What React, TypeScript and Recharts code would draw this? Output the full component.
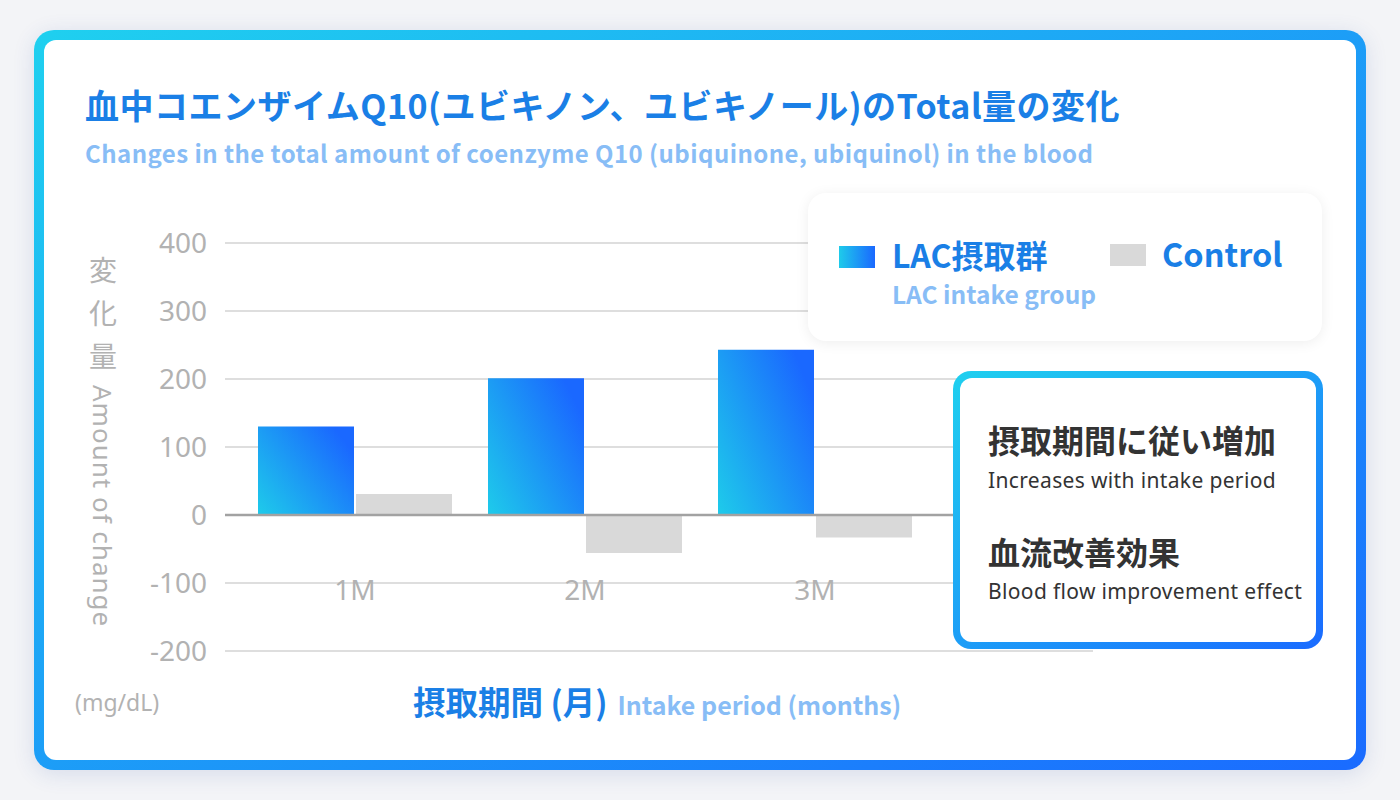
import React from 'react';
import { BarChart, Bar, XAxis, YAxis, CartesianGrid, ReferenceLine } from 'recharts';

const months = ['1M', '2M', '3M'];
const lacValues = [130, 201, 243];
const controlValues = [31, -56, -33];
const yTicks = [-200, -100, 0, 100, 200, 300, 400];

const chartData = months.map((m, i) => ({ month: m, lac: lacValues[i], control: controlValues[i] }));

const CJK = '"Noto Sans CJK JP", "Noto Sans", sans-serif';
const LATIN = '"Noto Sans", "Open Sans", sans-serif';
const BLUE = '#1a7fe6';
const LIGHT_BLUE = '#88bdf6';
const GRAY_TEXT = '#b2b2b2';
const BORDER_GRAD = 'linear-gradient(to bottom right, #1fd0ef, #1a6bff)';

const MonthTick = (props: any) => {
  const { x, y, payload } = props;
  return (
    <text x={x} y={y - 51} textAnchor="middle" fill={GRAY_TEXT} fontSize={28} fontFamily={LATIN}>
      {payload.value}
    </text>
  );
};

const App: React.FC = () => {
  return (
    <div style={{ position: 'fixed', left: 0, top: 0, width: 1400, height: 800, background: '#f3f4f7', overflow: 'hidden' }}>
      {/* card with gradient border */}
      <div
        style={{
          position: 'absolute', left: 34, top: 30, width: 1332, height: 740, borderRadius: 20,
          background: BORDER_GRAD, padding: 10, boxSizing: 'border-box',
          boxShadow: '0 4px 22px rgba(40, 80, 160, 0.14)'
        }}
      >
        <div style={{ width: '100%', height: '100%', background: '#fff', borderRadius: 12 }} />
      </div>

      {/* titles */}
      <div style={{ position: 'absolute', left: 85, top: 87, fontFamily: CJK, fontWeight: 700, fontSize: 34, letterSpacing: 0.5, lineHeight: '36px', color: BLUE, whiteSpace: 'nowrap' }}>
        血中コエンザイムQ10(ユビキノン、ユビキノール)のTotal量の変化
      </div>
      <div style={{ position: 'absolute', left: 85, top: 138, fontFamily: CJK, fontWeight: 700, fontSize: 24, letterSpacing: 0.45, lineHeight: '30px', color: LIGHT_BLUE, whiteSpace: 'nowrap' }}>
        Changes in the total amount of coenzyme Q10 (ubiquinone, ubiquinol) in the blood
      </div>

      {/* chart */}
      <div style={{ position: 'absolute', left: 0, top: 0 }}>
        <BarChart
          width={1400}
          height={800}
          data={chartData}
          margin={{ top: 243, right: 307, left: 145, bottom: 119 }}
          barCategoryGap={18}
          barGap={2}
        >
          <defs>
            <linearGradient id="lacGrad" x1="0" y1="1" x2="1" y2="0.3">
              <stop offset="0%" stopColor="#1ecbea" />
              <stop offset="100%" stopColor="#1a68ff" />
            </linearGradient>
          </defs>
          <CartesianGrid vertical={false} stroke="#dedede" strokeWidth={2} />
          <XAxis
            dataKey="month"
            axisLine={false}
            tickLine={false}
            tickSize={0}
            tickMargin={0}
            height={30}
            padding={{ left: 15, right: 163 }}
            tick={<MonthTick />}
          />
          <YAxis
            domain={[-200, 400]}
            ticks={yTicks}
            interval={0}
            width={80}
            axisLine={false}
            tickLine={false}
            tickSize={0}
            tickMargin={18}
            tick={{ fill: GRAY_TEXT, fontSize: 28, fontFamily: LATIN }}
          />
          <Bar dataKey="lac" fill="url(#lacGrad)" isAnimationActive={false} />
          <Bar dataKey="control" fill="#d9d9d9" isAnimationActive={false} />
          <ReferenceLine y={0} stroke="#a2a2a2" strokeWidth={2.5} />
        </BarChart>
      </div>

      {/* y axis title */}
      <div style={{ position: 'absolute', left: 83, top: 256, writingMode: 'vertical-rl', lineHeight: '40px', color: GRAY_TEXT, whiteSpace: 'nowrap' }}>
        <span style={{ fontFamily: CJK, fontSize: 28, letterSpacing: 15 }}>変化量</span>
        <span style={{ fontFamily: LATIN, fontSize: 26, letterSpacing: 1 }}>Amount of change</span>
      </div>
      <div style={{ position: 'absolute', left: 75, top: 688, fontFamily: LATIN, fontSize: 23, lineHeight: '28px', color: GRAY_TEXT }}>
        (mg/dL)
      </div>

      {/* x axis title */}
      <div style={{ position: 'absolute', left: 413, top: 677, display: 'flex', alignItems: 'baseline', gap: 10, whiteSpace: 'nowrap' }}>
        <span style={{ fontFamily: CJK, fontWeight: 700, fontSize: 32.5, color: BLUE }}>摂取期間 (月)</span>
        <span style={{ fontFamily: CJK, fontWeight: 700, fontSize: 25, color: LIGHT_BLUE }}>Intake period (months)</span>
      </div>

      {/* legend */}
      <div
        style={{
          position: 'absolute', left: 808, top: 193, width: 514, height: 148, background: '#fff', borderRadius: 18,
          boxShadow: '0 2px 14px rgba(0, 0, 0, 0.07)'
        }}
      >
        <div style={{ position: 'absolute', left: 31, top: 53, width: 36, height: 22, background: 'linear-gradient(to right, #1ecbea, #1a68ff)' }} />
        <div style={{ position: 'absolute', left: 84, top: 42, fontFamily: CJK, fontWeight: 700, fontSize: 32, lineHeight: '38px', color: BLUE, whiteSpace: 'nowrap' }}>
          LAC摂取群
        </div>
        <div style={{ position: 'absolute', left: 84, top: 86, fontFamily: CJK, fontWeight: 700, fontSize: 24.5, lineHeight: '30px', color: LIGHT_BLUE, whiteSpace: 'nowrap' }}>
          LAC intake group
        </div>
        <div style={{ position: 'absolute', left: 302, top: 51, width: 36, height: 22, background: '#d9d9d9' }} />
        <div style={{ position: 'absolute', left: 354, top: 41, fontFamily: CJK, fontWeight: 700, fontSize: 32.5, lineHeight: '38px', color: BLUE, whiteSpace: 'nowrap' }}>
          Control
        </div>
      </div>

      {/* annotation */}
      <div
        style={{
          position: 'absolute', left: 953, top: 371, width: 370, height: 278, borderRadius: 18,
          background: BORDER_GRAD, padding: 7, boxSizing: 'border-box'
        }}
      >
        <div style={{ position: 'relative', width: '100%', height: '100%', background: '#fff', borderRadius: 12, color: '#333' }}>
          <div style={{ position: 'absolute', left: 28, top: 43, fontFamily: CJK, fontWeight: 700, fontSize: 32, lineHeight: '36px', whiteSpace: 'nowrap' }}>
            摂取期間に従い増加
          </div>
          <div style={{ position: 'absolute', left: 28, top: 89, fontFamily: LATIN, fontSize: 21, letterSpacing: 0.35, lineHeight: '26px', whiteSpace: 'nowrap' }}>
            Increases with intake period
          </div>
          <div style={{ position: 'absolute', left: 28, top: 155, fontFamily: CJK, fontWeight: 700, fontSize: 32, lineHeight: '36px', whiteSpace: 'nowrap' }}>
            血流改善効果
          </div>
          <div style={{ position: 'absolute', left: 28, top: 200, fontFamily: LATIN, fontSize: 21, letterSpacing: 0.35, lineHeight: '26px', whiteSpace: 'nowrap' }}>
            Blood flow improvement effect
          </div>
        </div>
      </div>
    </div>
  );
};

export default App;
